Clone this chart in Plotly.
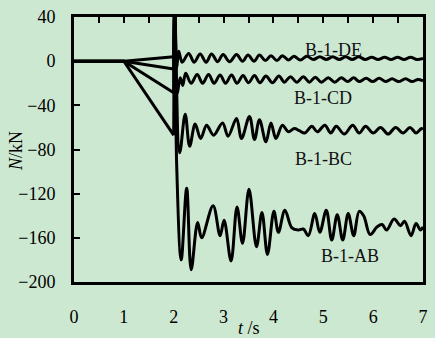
import plotly.graph_objects as go

# ---- loading phase: zero until 1 s, then linear ramp to 2 s ----
t_ramp = [0.0, 1.0, 2.0]
ramp_de = [0, 0, 4]
ramp_cd = [0, 0, -7]
ramp_bc = [0, 0, -28.6]
ramp_ab = [0, 0, -67]

# ---- dynamic response after the member removal at 2 s ----
t_de = [2.00, 2.02, 2.06, 2.10, 2.17, 2.30, 2.41, 2.53, 2.65, 2.76, 2.88, 2.99,
        3.12, 3.26, 3.38, 3.49, 3.61, 3.72, 3.84, 3.95, 4.07, 4.18, 4.30, 4.41,
        4.54, 4.67, 4.80, 4.93, 5.06, 5.19, 5.32, 5.45, 5.58, 5.71, 5.84, 5.97,
        6.10, 6.23, 6.36, 6.49, 6.62, 6.75, 6.88, 7.00]
n_de = [4, 50, -6, 9, -1, 7, -1, 6.5, -1, 6.5, -0.5, 6, -0.5, 6, 0, 5.5, 0, 5.5,
        0.5, 5, 0.5, 5, 1, 4.5, 1, 4.5, 1.5, 4, 1.5, 4, 1.5, 4, 1.5, 4, 1.5, 3.5,
        1.5, 3.5, 1.5, 3.5, 1.5, 3.5, 1.5, 2.5]

t_cd = [2.00, 2.02, 2.07, 2.13, 2.18, 2.24, 2.35, 2.47, 2.58, 2.70, 2.81, 2.93,
        3.04, 3.16, 3.27, 3.39, 3.50, 3.62, 3.73, 3.85, 3.98, 4.11, 4.22, 4.34,
        4.47, 4.60, 4.72, 4.84, 4.96, 5.10, 5.23, 5.36, 5.49, 5.61, 5.72, 5.86,
        5.99, 6.12, 6.25, 6.38, 6.51, 6.65, 6.78, 6.90, 7.00]
n_cd = [-7, 50, -29, -15, -22, -11, -20, -12, -20, -12, -20, -12.5, -20, -12.5,
        -20, -13, -19.5, -13, -19.5, -13.5, -19.5, -13.5, -19, -14, -19, -14,
        -19, -14.5, -19, -15, -19, -15, -18.5, -15, -18.5, -15.5, -18.5, -15.5,
        -18.5, -16, -18.5, -16, -18.5, -16.5, -18]

t_bc = [2.00, 2.02, 2.12, 2.23, 2.32, 2.43, 2.54, 2.66, 2.80, 2.98, 3.09, 3.26,
        3.36, 3.52, 3.62, 3.72, 3.85, 3.95, 4.05, 4.18, 4.30, 4.42, 4.52, 4.63,
        4.77, 4.88, 5.03, 5.15, 5.26, 5.42, 5.59, 5.72, 5.85, 6.00, 6.15, 6.30,
        6.45, 6.60, 6.74, 6.86, 6.97, 7.00]
n_bc = [-28.6, 50, -83, -48, -77, -57, -70, -58, -67, -56, -68, -52, -70, -50,
        -71, -53, -73, -56, -70, -58, -64, -61, -63, -65, -59, -64, -58, -65,
        -59, -66, -58, -65, -59, -65, -60, -66, -60, -65, -60, -65, -61, -62]

t_ab = [2.00, 2.02, 2.06, 2.15, 2.26, 2.35, 2.48, 2.56, 2.79, 2.93, 3.01, 3.15,
        3.27, 3.38, 3.51, 3.66, 3.77, 3.88, 4.01, 4.10, 4.23, 4.37, 4.50, 4.60,
        4.70, 4.83, 4.93, 5.06, 5.17, 5.28, 5.39, 5.50, 5.61, 5.72, 5.81, 5.94,
        6.08, 6.18, 6.27, 6.42, 6.55, 6.63, 6.76, 6.86, 6.95, 7.00]
n_ab = [-67, 50, -95, -180, -115, -189, -146, -160, -131, -158, -144, -181,
        -132, -165, -116, -168, -137, -175, -136, -155, -135, -151, -153, -152,
        -158, -138, -155, -135, -162, -139, -162, -138, -158, -136, -140, -157,
        -150, -148, -153, -143, -149, -145, -158, -147, -153, -150]

# ---- curve labels ----
label_text = ["B-1-DE", "B-1-CD", "B-1-BC", "B-1-AB"]
label_t = [5.21, 5.00, 5.01, 5.54]
label_n = [10.0, -33.4, -88.5, -176.7]

# ---- axes ----
x_ticks = [0, 1, 2, 3, 4, 5, 6, 7]
y_ticks = [-200, -160, -120, -80, -40, 0, 40]

BG = "#cde8d1"
INK = "#000000"
FONT = "Liberation Serif, 'Times New Roman', Times, serif"
LW = 3

fig = go.Figure()

ramps = [ramp_de, ramp_cd, ramp_bc, ramp_ab]
posts = [(t_de, n_de), (t_cd, n_cd), (t_bc, n_bc), (t_ab, n_ab)]
for ramp, (tt, nn) in zip(ramps, posts):
    fig.add_trace(go.Scatter(x=t_ramp, y=ramp, mode="lines",
                             line=dict(color=INK, width=LW),
                             showlegend=False, hoverinfo="skip"))
    fig.add_trace(go.Scatter(x=tt, y=nn, mode="lines",
                             line=dict(color=INK, width=LW, shape="spline",
                                       smoothing=1.0),
                             showlegend=False, hoverinfo="skip"))

# empty trace so the top axis (inside ticks only) is drawn
fig.add_trace(go.Scatter(x=[], y=[], xaxis="x2", showlegend=False))

for txt, tx, ny in zip(label_text, label_t, label_n):
    fig.add_annotation(x=tx, y=ny, xref="x", yref="y", text=txt,
                       showarrow=False, font=dict(family=FONT, size=18, color="#111"))

fig.add_annotation(x=0.5, y=-0.172, xref="paper", yref="paper",
                   text="<i>t</i> /s", showarrow=False,
                   font=dict(family=FONT, size=18, color=INK),
                   xanchor="center", yanchor="middle")
fig.add_annotation(x=-0.164, y=0.493, xref="paper", yref="paper",
                   text="<i>N</i>/kN", showarrow=False, textangle=-90,
                   font=dict(family=FONT, size=18, color=INK),
                   xanchor="center", yanchor="middle")

fig.update_layout(
    width=435, height=338,
    margin=dict(l=74, r=7, t=14, b=56),
    paper_bgcolor=BG, plot_bgcolor=BG,
    font=dict(family=FONT, size=18, color=INK),
    xaxis=dict(range=[0, 7], tickvals=x_ticks, ticks="", showgrid=False,
               zeroline=False, showline=True, linecolor=INK, linewidth=LW,
               mirror=False, ticklabelstandoff=16,
               tickfont=dict(family=FONT, size=18, color=INK)),
    xaxis2=dict(range=[0, 7], overlaying="x", side="top", anchor="y",
                dtick=0.5, tick0=0, ticks="inside", ticklen=6, tickwidth=2,
                tickcolor=INK, showticklabels=False, showgrid=False,
                zeroline=False, showline=True, linecolor=INK, linewidth=LW),
    yaxis=dict(range=[-200, 40], tickvals=y_ticks, ticks="inside", ticklen=6,
               tickwidth=2, tickcolor=INK, showgrid=False, zeroline=False,
               showline=True, linecolor=INK, linewidth=LW, mirror=True,
               ticklabelstandoff=12,
               tickfont=dict(family=FONT, size=18, color=INK)),
)

fig.write_html("out.html")
